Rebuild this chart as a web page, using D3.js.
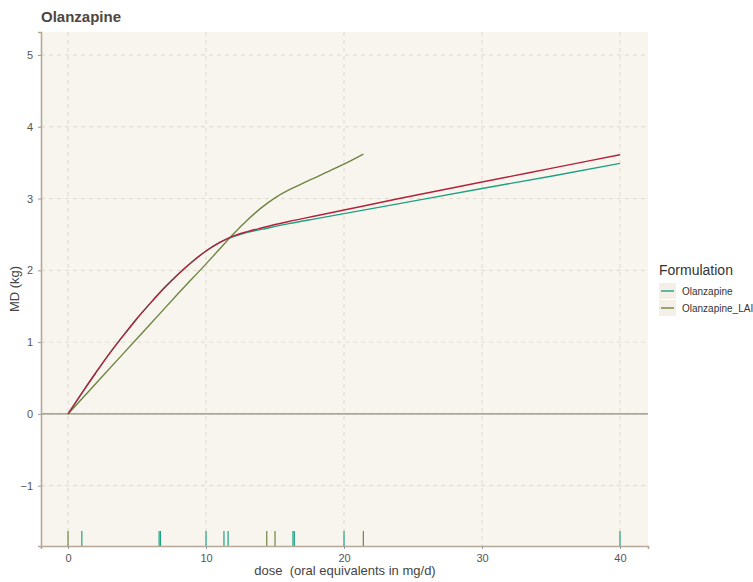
<!DOCTYPE html>
<html>
<head>
<meta charset="utf-8">
<script src="https://cdn.jsdelivr.net/npm/d3@7"></script>
<style>
  html, body { margin: 0; padding: 0; background: #ffffff; }
  svg { display: block; font-family: "Liberation Sans", Arial, sans-serif; }
  text.pre { white-space: pre; }
</style>
</head>
<body>
<svg id="chart" width="753" height="582"></svg>
<script>
// Dose-response curves: mean difference in weight (kg) by dose (oral equivalents, mg/d)
const overallDose = [0, 1, 2, 3, 4, 5, 6, 7, 8, 9, 10, 11, 12, 13, 14, 16, 18, 20, 24, 30, 35, 40];
const overallMD   = [0, 0.29, 0.57, 0.84, 1.09, 1.33, 1.55, 1.76, 1.95, 2.12, 2.27, 2.39, 2.48, 2.54, 2.59, 2.68, 2.76, 2.84, 3.0, 3.23, 3.42, 3.61];

const oralDose = [0, 1, 2, 3, 4, 5, 6, 7, 8, 9, 10, 11, 12, 13, 14, 16, 18, 20, 24, 30, 35, 40];
const oralMD   = [0, 0.29, 0.57, 0.84, 1.09, 1.33, 1.55, 1.76, 1.95, 2.12, 2.27, 2.39, 2.47, 2.53, 2.57, 2.65, 2.72, 2.79, 2.93, 3.14, 3.31, 3.49];

const laiDose = [0, 2, 4, 6, 8, 10, 11, 12, 13, 14, 15, 16, 17, 18, 19, 20, 21.4];
const laiMD   = [0, 0.42, 0.84, 1.26, 1.68, 2.09, 2.3, 2.51, 2.7, 2.87, 3.01, 3.12, 3.21, 3.3, 3.39, 3.48, 3.62];

// Observed doses shown as rug marks along the x axis
const rugOral = [1.0, 6.6, 6.7, 10, 11.3, 11.6, 16.3, 16.4, 20, 40];
const rugLAI  = [0, 14.4, 15.0, 21.4];

const xTicks = [0, 10, 20, 30, 40];
const yTicks = [-1, 0, 1, 2, 3, 4, 5];
const legendLabels = ["Olanzapine", "Olanzapine_LAI"];

const colOverall = "#b5203a";
const colOral = "#1fa184";
const colLAI = "#6e8540";

const svg = d3.select("#chart");
const panel = { left: 41, right: 648, top: 32, bottom: 546 };

const x = d3.scaleLinear().domain([-1.96, 42.03]).range([panel.left, panel.right]);
const y = d3.scaleLinear().domain([-1.84, 5.32]).range([panel.bottom, panel.top]);

// panel background
svg.append("rect")
  .attr("x", panel.left).attr("y", panel.top)
  .attr("width", panel.right - panel.left).attr("height", panel.bottom - panel.top)
  .attr("fill", "#f8f5ef");

// dashed grid
const grid = svg.append("g").attr("stroke", "#dcd6cc").attr("stroke-width", 0.9).attr("stroke-dasharray", "4,4");
grid.selectAll("line.v").data(xTicks).join("line")
  .attr("x1", d => x(d)).attr("x2", d => x(d))
  .attr("y1", panel.top).attr("y2", panel.bottom);
grid.selectAll("line.h").data(yTicks).join("line")
  .attr("x1", panel.left).attr("x2", panel.right)
  .attr("y1", d => y(d)).attr("y2", d => y(d));

// reference line at zero
svg.append("line")
  .attr("x1", panel.left).attr("x2", panel.right)
  .attr("y1", y(0)).attr("y2", y(0))
  .attr("stroke", "#8d8e7c").attr("stroke-width", 1.1);

// rug marks
const rugTop = 531;
svg.append("g").selectAll("line").data(rugOral).join("line")
  .attr("x1", d => x(d)).attr("x2", d => x(d))
  .attr("y1", rugTop).attr("y2", panel.bottom)
  .attr("stroke", colOral).attr("stroke-width", 1.2);
svg.append("g").selectAll("line").data(rugLAI).join("line")
  .attr("x1", d => x(d)).attr("x2", d => x(d))
  .attr("y1", rugTop).attr("y2", panel.bottom)
  .attr("stroke", colLAI).attr("stroke-width", 1.2);

// curves
const line = d3.line().x(d => x(d[0])).y(d => y(d[1])).curve(d3.curveMonotoneX);
const curves = [
  { dose: laiDose, md: laiMD, color: colLAI },
  { dose: oralDose, md: oralMD, color: colOral },
  { dose: overallDose, md: overallMD, color: colOverall }
];
curves.forEach(c => {
  svg.append("path")
    .datum(c.dose.map((d, i) => [d, c.md[i]]))
    .attr("fill", "none")
    .attr("stroke", c.color)
    .attr("stroke-width", 1.4)
    .attr("d", line);
});

// axes
const axisColor = "#b6a898";
const xAxis = svg.append("g").attr("transform", `translate(0,${panel.bottom})`)
  .call(d3.axisBottom(x).tickValues(xTicks).tickSize(3).tickPadding(5));
const yAxis = svg.append("g").attr("transform", `translate(${panel.left},0)`)
  .call(d3.axisLeft(y).tickValues(yTicks).tickSize(3).tickPadding(5));
[xAxis, yAxis].forEach(a => {
  a.select(".domain").attr("stroke", axisColor).attr("stroke-width", 1.6);
  a.selectAll(".tick line").attr("stroke", "#9a9a9a");
  a.selectAll(".tick text").attr("fill", "#555555").attr("font-size", 11)
    .attr("font-family", "Liberation Sans, Arial, sans-serif");
});

// axis titles
svg.append("text").attr("class", "pre")
  .attr("x", 345).attr("y", 575)
  .attr("text-anchor", "middle").attr("font-size", 13).attr("fill", "#444444")
  .text("dose  (oral equivalents in mg/d)");
svg.append("text")
  .attr("transform", `translate(19,${(panel.top + panel.bottom) / 2}) rotate(-90)`)
  .attr("text-anchor", "middle").attr("font-size", 13).attr("fill", "#444444")
  .text("MD (kg)");

// panel title
svg.append("text")
  .attr("x", 41).attr("y", 22)
  .attr("font-size", 15).attr("font-weight", "bold").attr("fill", "#4e463e")
  .text("Olanzapine");

// legend
const lg = svg.append("g").attr("transform", "translate(659,0)");
lg.append("text").attr("x", 0).attr("y", 275).attr("font-size", 14).attr("fill", "#333333")
  .text("Formulation");
const legendColors = [colOral, colLAI];
legendLabels.forEach((lab, i) => {
  const cy = 291 + i * 17;
  lg.append("rect").attr("x", 0).attr("y", cy - 8).attr("width", 17).attr("height", 16).attr("fill", "#f4f0e8");
  lg.append("line").attr("x1", 2).attr("x2", 15).attr("y1", cy).attr("y2", cy)
    .attr("stroke", legendColors[i]).attr("stroke-width", 1.4);
  lg.append("text").attr("x", 23).attr("y", cy + 4).attr("font-size", 10).attr("fill", "#333333").text(lab);
});
</script>
</body>
</html>
